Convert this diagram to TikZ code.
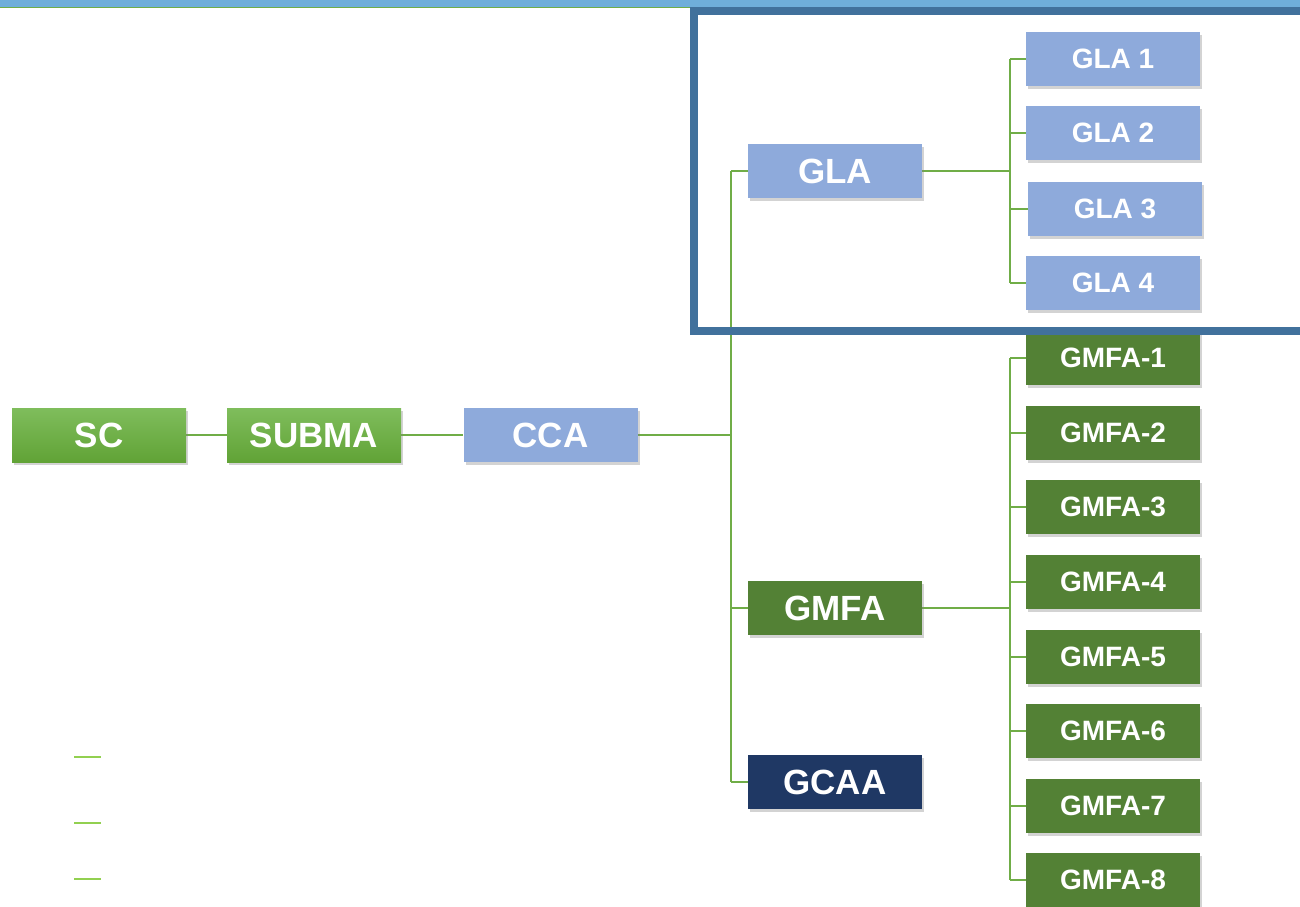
\documentclass[tikz,border=0pt]{standalone}
\usepackage{fontspec}
\setmainfont{Liberation Sans}
\usetikzlibrary{shadows,backgrounds}
\definecolor{barblue}{RGB}{111,174,218}
\definecolor{framebl}{RGB}{65,113,156}
\definecolor{conn}{RGB}{112,173,71}
\definecolor{lgtop}{RGB}{127,189,92}
\definecolor{lgbot}{RGB}{97,163,54}
\definecolor{boxblue}{RGB}{142,170,219}
\definecolor{dkgreen}{RGB}{83,129,53}
\definecolor{navy}{RGB}{31,56,100}
\definecolor{dashgreen}{RGB}{146,208,80}
\tikzset{
  box/.style={rectangle, minimum width=174pt, minimum height=54pt, inner sep=0pt,
    text=white, font=\bfseries\fontsize{35}{38}\selectfont,
    drop shadow={shadow xshift=2pt, shadow yshift=-3pt, opacity=0.35}},
  smallbox/.style={box, font=\bfseries\fontsize{28}{30}\selectfont},
  greenbox/.style={top color=lgtop, bottom color=lgbot},
  bluebox/.style={fill=boxblue},
  dgbox/.style={fill=dkgreen},
  navybox/.style={fill=navy},
  link/.style={draw=conn, line width=2pt},
}
\begin{document}
\begin{tikzpicture}[x=1pt,y=-1pt]
\useasboundingbox (0,0) rectangle (1300,906);
% top bar
\fill[barblue] (0,0) rectangle (1300,7);
\draw[conn, line width=1pt] (0,7.5) -- (690,7.5);
% bus coordinates
\coordinate (b1) at (731,171);
\coordinate (b2) at (731,782);
\coordinate (g1) at (1010,59);
\coordinate (g4) at (1010,283);
\coordinate (m1) at (1010,358);
\coordinate (m8) at (1010,880);
% nodes
\node[box, greenbox] (sc) at (99,435) {SC};
\node[box, greenbox] (subma) at (314,435) {SUBMA};
\node[box, bluebox] (cca) at (550.5,435) {CCA};
\node[box, bluebox] (gla) at (835,171) {GLA};
\node[box, dgbox] (gmfa) at (835,608) {GMFA};
\node[box, navybox] (gcaa) at (835,782) {GCAA};
\node[smallbox, bluebox] (gla1) at (1113,59) {GLA 1};
\node[smallbox, bluebox] (gla2) at (1113,133) {GLA 2};
\node[smallbox, bluebox] (gla3) at (1115,209) {GLA 3};
\node[smallbox, bluebox] (gla4) at (1113,283) {GLA 4};
\node[smallbox, dgbox] (gm1) at (1113,358) {GMFA-1};
\node[smallbox, dgbox] (gm2) at (1113,433) {GMFA-2};
\node[smallbox, dgbox] (gm3) at (1113,507) {GMFA-3};
\node[smallbox, dgbox] (gm4) at (1113,582) {GMFA-4};
\node[smallbox, dgbox] (gm5) at (1113,657) {GMFA-5};
\node[smallbox, dgbox] (gm6) at (1113,731) {GMFA-6};
\node[smallbox, dgbox] (gm7) at (1113,806) {GMFA-7};
\node[smallbox, dgbox] (gm8) at (1113,880) {GMFA-8};
% connectors behind
\begin{scope}[on background layer]
\draw[link] (sc) -- (subma);
\draw[link] (subma) -- (cca);
\draw[link] (cca.east) -- (cca.east -| b1);
\draw[link] (b1) -- (b2);
\draw[link] (b1) -- (gla.west);
\draw[link] (b1 |- gmfa) -- (gmfa.west);
\draw[link] (b2) -- (gcaa.west);
\draw[link] (gla.east) -- (gla.east -| g1);
\draw[link] (g1) -- (g4);
\foreach \n in {gla1,gla2,gla3,gla4} \draw[link] (g1 |- \n) -- (\n.west);
\draw[link] (gmfa.east) -- (gmfa.east -| m1);
\draw[link] (m1) -- (m8);
\foreach \n in {gm1,gm2,gm3,gm4,gm5,gm6,gm7,gm8} \draw[link] (m1 |- \n) -- (\n.west);
\end{scope}
% frame
\draw[framebl, line width=8pt] (694,11) rectangle (1310,331);
% small dashes
\foreach \y in {757,823,879} \draw[dashgreen, line width=1.5pt] (74,\y) -- (101,\y);
\end{tikzpicture}
\end{document}
